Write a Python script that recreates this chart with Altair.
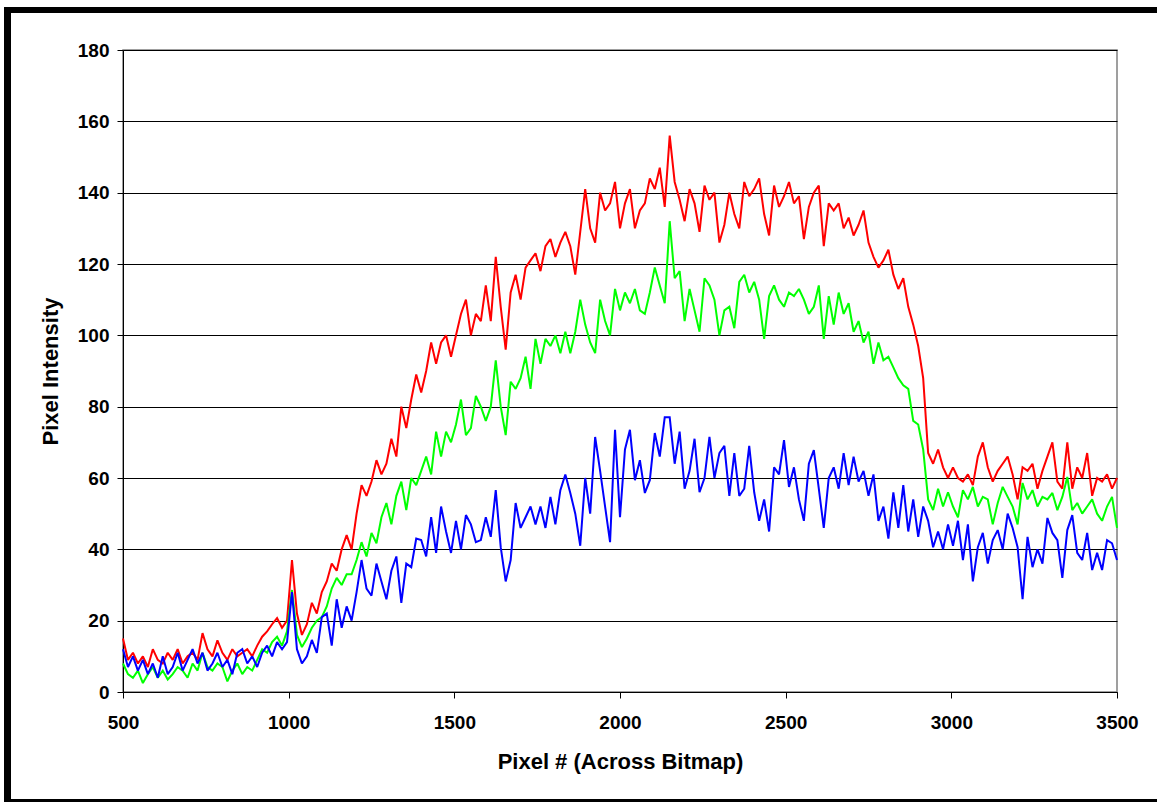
import altair as alt
import pandas as pd

# Sample positions across the bitmap (every 15 pixels)
pixel = list(range(500, 3501, 15))

red = [
    15, 9, 11, 8, 10, 7, 12, 9, 8, 11,
    9, 12, 8, 10, 11, 9, 16.5, 12, 10, 14.5,
    11, 9, 12, 10, 11, 12, 10, 13, 15.5, 17,
    19, 20.7, 18, 20, 37, 22, 16, 19, 25, 22,
    28, 31, 36, 34, 40, 44, 40, 50, 58, 55,
    59, 65, 61, 64, 71, 66, 80, 74, 82, 89,
    84, 90, 98, 92, 98, 100, 94, 100, 106, 110,
    100, 106, 104, 114, 104, 122, 108, 96, 112, 117,
    110, 119, 121, 123, 118, 125, 127, 122, 126, 129,
    125, 117, 129, 141, 130, 126, 140, 135, 137, 143,
    130, 137, 141, 130, 135, 137, 144, 141, 147, 136,
    156, 143, 138, 132, 141, 137, 129, 142, 138, 140,
    126, 131, 140, 134, 130, 143, 139, 141, 144, 134,
    128, 142, 136, 139, 143, 137, 139, 127, 136, 140,
    142, 125, 137, 135, 137, 130, 133, 128, 131, 135,
    126, 122, 119, 121, 124, 117, 113, 116, 108, 103,
    97, 88, 67, 64, 68, 63, 60, 63, 60, 59,
    61, 58, 66, 70, 63, 59, 62, 64, 66, 61,
    54, 63, 62, 64, 57, 62, 66, 70, 59, 57,
    70, 57, 63, 60, 67, 55, 60, 59, 61, 57,
    60,
]

green = [
    8, 5, 4, 6, 2.5, 5, 7, 4, 6, 3.5,
    5, 7, 6, 4, 8, 6, 11, 7, 6, 8,
    7, 3, 6, 8, 5, 7, 6, 9, 12, 11,
    14, 15.5, 13, 17, 28.6, 16, 12.6, 15, 18, 20,
    21, 24, 29, 32, 30, 33, 33, 37, 42, 38,
    44.6, 41.7, 49, 53, 47, 55, 59, 51, 60, 58,
    62, 66, 61, 73, 66, 73, 70, 75, 82, 72,
    74, 83, 80, 76, 80, 93, 80, 72, 87, 85,
    88, 94, 85, 99, 92, 99, 97, 100, 95, 101,
    95, 101, 110, 103, 98, 95, 110, 104, 100, 113,
    107, 112, 109, 113, 107, 106, 112, 119, 114, 109,
    132, 116, 118, 104, 113, 107, 101, 116, 114, 110,
    100, 107, 108, 102, 115, 117, 112, 115, 110, 99,
    111, 114, 110, 108, 112, 111, 113, 110, 106, 108,
    114, 99, 111, 103, 112, 106, 109, 101, 104, 98,
    101, 92, 98, 93, 94, 91, 88, 86, 85, 76,
    75, 68, 54, 51, 57, 52, 56, 52, 49, 56.6,
    54, 57.5, 52, 54.7, 54, 47, 53, 57.5, 54.7, 52,
    47, 58.6, 54, 56.6, 52, 54.7, 54, 55.8, 51, 54.7,
    60.3, 51, 53, 50, 52, 54, 50, 48, 52, 54.7,
    46,
]

blue = [
    12, 7, 10, 6, 9, 5, 8, 4, 10, 5,
    7, 11, 6, 9, 12, 8, 11, 6, 8, 11,
    7, 9, 5, 11, 12, 8, 10, 7, 11, 13,
    10, 14, 12, 14, 28, 12, 8, 10, 14.6, 11,
    21, 22, 13, 26, 18, 24, 20, 28, 37, 29,
    27, 36, 31, 26, 34, 38, 25, 36, 35, 43,
    42.6, 38, 49, 39, 52, 45, 39, 48, 40, 49.6,
    47, 42, 42.6, 49, 43.5, 56.6, 40.6, 31, 37, 53,
    46, 49, 52, 47, 52, 46, 54.7, 47, 56.6, 61,
    55.8, 50, 41, 60, 50, 71.5, 62, 52, 42, 73.5,
    49, 68, 73.5, 59.4, 65, 55.8, 59.4, 72.6, 66, 77,
    77, 64, 73, 57, 62, 71, 56, 60, 71.5, 60,
    67, 69, 55, 67, 55, 57, 69, 56, 48, 54,
    45, 63, 61, 70.6, 57.5, 63, 54, 48, 64, 67.8,
    57, 46, 60, 63, 57, 67, 58, 66, 59, 62,
    55, 61, 48, 52, 43, 56, 46, 58, 45, 54,
    43.5, 52, 48, 40.6, 45, 40, 47, 41, 48, 37,
    47, 31, 40.6, 44.6, 36, 42.6, 45.4, 40, 50, 46,
    40.6, 26, 43.5, 35, 40, 36, 48.8, 44.6, 42.6, 32,
    45.4, 49.6, 39, 37, 44.6, 34.2, 39, 34.2, 42.6, 41.7,
    37,
]

x_ticks = [500, 1000, 1500, 2000, 2500, 3000, 3500]
y_ticks = [0, 20, 40, 60, 80, 100, 120, 140, 160, 180]

FONT = "Liberation Sans, Arial, sans-serif"
W, H = 994, 642
PAD = {"left": 123, "top": 50, "right": 46, "bottom": 110}

x_enc = alt.X(
    "pixel:Q",
    scale=alt.Scale(domain=[500, 3500], nice=False, zero=False),
    axis=alt.Axis(
        values=x_ticks, format="d", title="Pixel # (Across Bitmap)", grid=False,
        tickSize=6, tickColor="black", domainColor="black",
        labelPadding=15, labelFlush=False,
        titleX=W / 2, titleY=69, titleAlign="center", titleBaseline="middle",
    ),
)
y_enc = alt.Y(
    "value:Q",
    scale=alt.Scale(domain=[0, 180], nice=False),
    axis=alt.Axis(
        values=y_ticks, format="d", title="Pixel Intensity", grid=True,
        gridColor="black", gridWidth=1, gridOpacity=1,
        tickSize=6, tickColor="black", domainColor="black",
        labelPadding=8,
        titleX=-73, titleY=H / 2, titleAngle=270,
        titleAlign="center", titleBaseline="middle",
    ),
)


def series(values, color):
    df = pd.DataFrame({"pixel": pixel, "value": values})
    return alt.Chart(df).mark_line(
        color=color, strokeWidth=2, strokeJoin="miter", strokeMiterLimit=2
    ).encode(x=x_enc, y=y_enc)


# Thick outer frame of the chart sheet (left, top and bottom edges),
# drawn as filled bars in pixel space around the plot area.
one = pd.DataFrame({"a": [0]})


def bar(x0, x1, y0, y1):
    return alt.Chart(one).mark_rect(color="black").encode(
        x=alt.value(x0 - PAD["left"]), x2=alt.value(x1 - PAD["left"]),
        y=alt.value(y0 - PAD["top"]), y2=alt.value(y1 - PAD["top"]),
    )


total_w = PAD["left"] + W + PAD["right"]
total_h = PAD["top"] + H + PAD["bottom"]
frame_left = bar(4, 11, 7, total_h)
frame_top = bar(4, total_w - 6, 7, 13)
frame_bottom = bar(4, total_w - 6, total_h - 3, total_h)

chart = alt.layer(
    series(red, "#FF0000"),
    series(green, "#00FF00"),
    series(blue, "#0000FF"),
    frame_left, frame_top, frame_bottom,
).properties(
    width=W, height=H,
    autosize=alt.AutoSizeParams(type="none"),
    padding=PAD,
    background="white",
).configure_view(
    stroke="#808080", strokeWidth=1.5
).configure_axis(
    labelFont=FONT, labelFontSize=19, labelFontWeight="bold", labelColor="black",
    titleFont=FONT, titleFontSize=22, titleFontWeight="bold", titleColor="black",
    domainWidth=1,
)

chart.save("out.html", embed_options={"renderer": "svg", "actions": False})
